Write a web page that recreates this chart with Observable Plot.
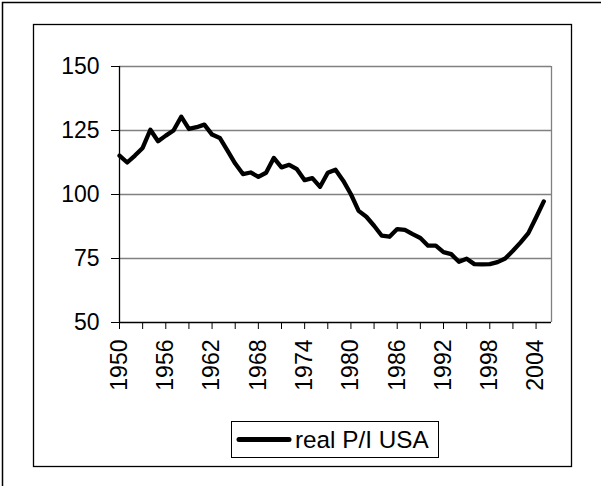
<!DOCTYPE html>
<html><head><meta charset="utf-8">
<script src="https://cdn.jsdelivr.net/npm/d3@7"></script>
<script src="https://cdn.jsdelivr.net/npm/@observablehq/plot@0.6"></script>
<style>
html,body{margin:0;padding:0;background:#fff;}
#chart{width:601px;height:486px;position:relative;overflow:hidden;}
</style></head><body><div id="chart"></div>
<script>
const years = [1950,1951,1952,1953,1954,1955,1956,1957,1958,1959,
  1960,1961,1962,1963,1964,1965,1966,1967,1968,1969,
  1970,1971,1972,1973,1974,1975,1976,1977,1978,1979,
  1980,1981,1982,1983,1984,1985,1986,1987,1988,1989,
  1990,1991,1992,1993,1994,1995,1996,1997,1998,1999,
  2000,2001,2002,2003,2004,2005];
const values = [115.2,112.5,115.2,118.2,125.3,120.8,123.0,125.0,130.4,125.6,
  126.3,127.3,123.4,122.1,117.1,112.1,108.0,108.6,106.9,108.5,
  114.3,110.6,111.6,109.9,105.6,106.4,103.0,108.5,109.7,105.4,
  100.1,93.6,91.3,87.8,83.9,83.5,86.5,86.2,84.5,83.0,
  80.0,80.0,77.5,76.7,73.7,74.9,72.8,72.7,72.8,73.6,
  75.0,78.0,81.3,84.9,91.0,97.3];
const yTicks = [50,75,100,125,150];
const yGrid = [75,100,125,150];
const xTickYears = [1950,1953,1956,1959,1962,1965,1968,1971,1974,1977,1980,1983,1986,1989,1992,1995,1998,2001,2004];
const xLabelYears = [1950,1956,1962,1968,1974,1980,1986,1992,1998,2004];
const xDomain = [1950,2006];
const yDomain = [50,150];
const seriesName = "real P/I USA";

const data = years.map((yr,i)=>({year:yr, value:values[i]}));
const font = "'Liberation Sans', Arial, sans-serif";

const plot = Plot.plot({
  width:601, height:486,
  marginLeft:119, marginRight:50, marginTop:66, marginBottom:164,
  style:{fontFamily:font, fontSize:"23px", color:"#000", background:"transparent", overflow:"visible"},
  x:{domain:xDomain},
  y:{domain:yDomain},
  marks:[
    Plot.gridY(yGrid, {stroke:"#808080", strokeOpacity:1, strokeWidth:1.3}),
    Plot.ruleX([xDomain[1]], {stroke:"#808080", strokeWidth:1.3}),
    Plot.axisY(yTicks, {tickSize:8, tickPadding:12, label:null, tickFormat:d=>String(d)}),
    Plot.axisX(xTickYears, {tickSize:7, tickFormat:()=>"", label:null}),
    Plot.axisX(xLabelYears, {tickSize:0, tickPadding:17, tickRotate:-90, tickFormat:d=>String(d), label:null}),
    Plot.ruleX([xDomain[0]], {stroke:"#000", strokeWidth:1.3}),
    Plot.ruleY([yDomain[0]], {stroke:"#000", strokeWidth:1.3}),
    Plot.line(data, {x:"year", y:"value", stroke:"#000", strokeWidth:4.3, strokeLinejoin:"round"})
  ]
});

const svg = d3.select(plot);
svg.style("position","absolute").style("left","0").style("top","0");
// decorations: outer frame, inner chart box, legend
const deco = svg.insert("g", ":first-child");
deco.append("rect").attr("x",0).attr("y",0).attr("width",601).attr("height",486).attr("fill","#fff");
deco.append("path").attr("d","M2.5,486V2.5H601").attr("fill","none").attr("stroke","#000").attr("stroke-width",1.5);
deco.append("rect").attr("x",33.5).attr("y",24.5).attr("width",538).attr("height",442)
  .attr("fill","none").attr("stroke","#000").attr("stroke-width",1.3);

const leg = svg.append("g");
leg.append("rect").attr("x",231.5).attr("y",421.5).attr("width",207).attr("height",36)
  .attr("fill","#fff").attr("stroke","#000").attr("stroke-width",1);
leg.append("line").attr("x1",239).attr("x2",289).attr("y1",439.5).attr("y2",439.5)
  .attr("stroke","#000").attr("stroke-width",5).attr("stroke-linecap","round");
leg.append("text").attr("x",295).attr("y",448).attr("text-anchor","start")
  .attr("font-family",font).attr("font-size",24.3)
  .attr("fill","#000").text(seriesName);

document.getElementById("chart").appendChild(plot);
</script>
</body></html>
